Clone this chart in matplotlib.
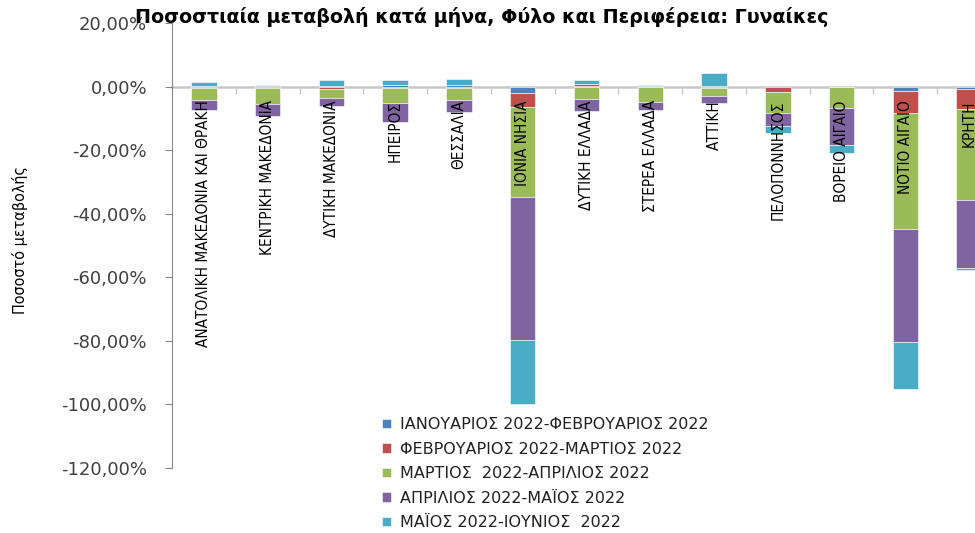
import numpy as np
import matplotlib
matplotlib.use('Agg')
import matplotlib.pyplot as plt
from matplotlib import font_manager
from matplotlib.ticker import FixedLocator, FuncFormatter

# regions (x axis categories)
regions = ['ΑΝΑΤΟΛΙΚΗ ΜΑΚΕΔΟΝΙΑ ΚΑΙ ΘΡΑΚΗ', 'ΚΕΝΤΡΙΚΗ ΜΑΚΕΔΟΝΙΑ', 'ΔΥΤΙΚΗ ΜΑΚΕΔΟΝΙΑ',
           'ΗΠΕΙΡΟΣ', 'ΘΕΣΣΑΛΙΑ', 'ΙΟΝΙΑ ΝΗΣΙΑ', 'ΔΥΤΙΚΗ ΕΛΛΑΔΑ', 'ΣΤΕΡΕΑ ΕΛΛΑΔΑ',
           'ΑΤΤΙΚΗ', 'ΠΕΛΟΠΟΝΝΗΣΟΣ', 'ΒΟΡΕΙΟ ΑΙΓΑΙΟ', 'ΝΟΤΙΟ ΑΙΓΑΙΟ', 'ΚΡΗΤΗ']

# monthly % change per region
jan_feb = [0.2, 0.1, 0.2, 0.6, 0.5, -1.9, 0.3, 0.1, 0.1, 0.0, 0.0, -1.4, -0.8]
feb_mar = [-0.5, -0.4, -0.8, -0.3, -0.6, -4.5, 0.6, -0.1, -0.3, -1.6, 0.0, -6.8, -6.3]
mar_apr = [-3.7, -5.0, -2.7, -5.0, -3.6, -28.3, -4.0, -4.7, -2.8, -6.6, -6.6, -36.7, -28.6]
apr_may = [-3.1, -4.0, -2.7, -5.9, -3.8, -45.0, -3.6, -2.6, -2.1, -4.2, -11.8, -35.4, -21.5]
may_jun = [1.2, 0.4, 2.0, 1.6, 1.8, -20.2, 1.3, 0.5, 4.2, -2.1, -2.4, -14.9, -0.6]

series_names = ['ΙΑΝΟΥΑΡΙΟΣ 2022-ΦΕΒΡΟΥΑΡΙΟΣ 2022',
                'ΦΕΒΡΟΥΑΡΙΟΣ 2022-ΜΑΡΤΙΟΣ 2022',
                'ΜΑΡΤΙΟΣ  2022-ΑΠΡΙΛΙΟΣ 2022',
                'ΑΠΡΙΛΙΟΣ 2022-ΜΑΪΟΣ 2022',
                'ΜΑΪΟΣ 2022-ΙΟΥΝΙΟΣ  2022']
colors = ['#4F81BD', '#C0504D', '#9BBB59', '#8064A2', '#4BACC6']

# pick a narrow font if one is there
fonts = font_manager.fontManager.ttflist
if any(f.name == 'Liberation Sans Narrow' for f in fonts):
    narrow = dict(family='Liberation Sans Narrow', fontsize=11.5)
    ylab = dict(family='Liberation Sans Narrow', fontsize=12)
elif any(f.name == 'DejaVu Sans' and f.stretch == 'condensed' for f in fonts):
    narrow = dict(family='DejaVu Sans', fontstretch='condensed', fontsize=11)
    ylab = dict(family='DejaVu Sans', fontstretch='condensed', fontsize=11.5)
else:
    narrow = dict(family='DejaVu Sans', fontsize=10.1)
    ylab = dict(family='DejaVu Sans', fontsize=10.5)

fig = plt.figure(figsize=(9.75, 5.33), dpi=100)
ax = fig.add_axes([172 / 975, 65 / 533, 829 / 975, 445 / 533])

x = np.arange(len(regions))
pos_bottom = np.zeros(len(regions))
neg_bottom = np.zeros(len(regions))
for vals, name, col in zip([jan_feb, feb_mar, mar_apr, apr_may, may_jun], series_names, colors):
    v = np.array(vals)
    bottom = np.where(v >= 0, pos_bottom, neg_bottom)
    ax.bar(x, v, 0.4, bottom=bottom, color=col, label=name,
           edgecolor='white', linewidth=0.4, zorder=2)
    pos_bottom += np.where(v >= 0, v, 0)
    neg_bottom += np.where(v < 0, v, 0)

ax.set_xlim(-0.5, len(regions) - 0.5)
ax.set_ylim(-120, 20)
ax.yaxis.set_major_locator(FixedLocator(np.arange(-120, 21, 20)))
ax.yaxis.set_major_formatter(FuncFormatter(lambda v, p: ('%.2f%%' % v).replace('.', ',')))
ax.tick_params(axis='y', labelsize=13, labelcolor='#404040', color='#868686',
               length=5, width=0.8, pad=13)

# category axis crosses at zero
ax.spines['bottom'].set_position(('data', 0))
ax.spines['bottom'].set_color('#c8c8c8')
ax.spines['bottom'].set_linewidth(1.8)
ax.spines['bottom'].set_zorder(1)
ax.spines['left'].set_color('#868686')
ax.spines['left'].set_linewidth(0.8)
ax.spines['top'].set_visible(False)
ax.spines['right'].set_visible(False)
ax.set_xticks(np.arange(0.5, len(regions) - 0.5, 1))
ax.set_xticklabels([])
ax.tick_params(axis='x', color='#c8c8c8', length=5, width=1)

for i, r in enumerate(regions):
    ax.annotate(r, xy=(i, 0), xytext=(0, -10), textcoords='offset points',
                rotation=90, ha='center', va='top', color='black', zorder=3, **narrow)

fig.text(20 / 975, 1 - 240 / 533, 'Ποσοστό μεταβολής', rotation=90, ha='center', va='center',
         color='black', **ylab)

fig.text(482 / 975, 1 - 17 / 533, 'Ποσοστιαία μεταβολή κατά μήνα, Φύλο και Περιφέρεια: Γυναίκες',
         ha='center', va='center', fontsize=13.7, fontweight='bold', color='black')

ax.legend(loc='upper left', bbox_to_anchor=(382 / 975, 1 - 417 / 533),
          bbox_transform=fig.transFigure, frameon=False, fontsize=11.5,
          handlelength=0.55, handleheight=0.55, handletextpad=0.6, labelspacing=0.6,
          labelcolor='#202020', borderaxespad=0, borderpad=0)

fig.savefig('out.png', dpi=100)
